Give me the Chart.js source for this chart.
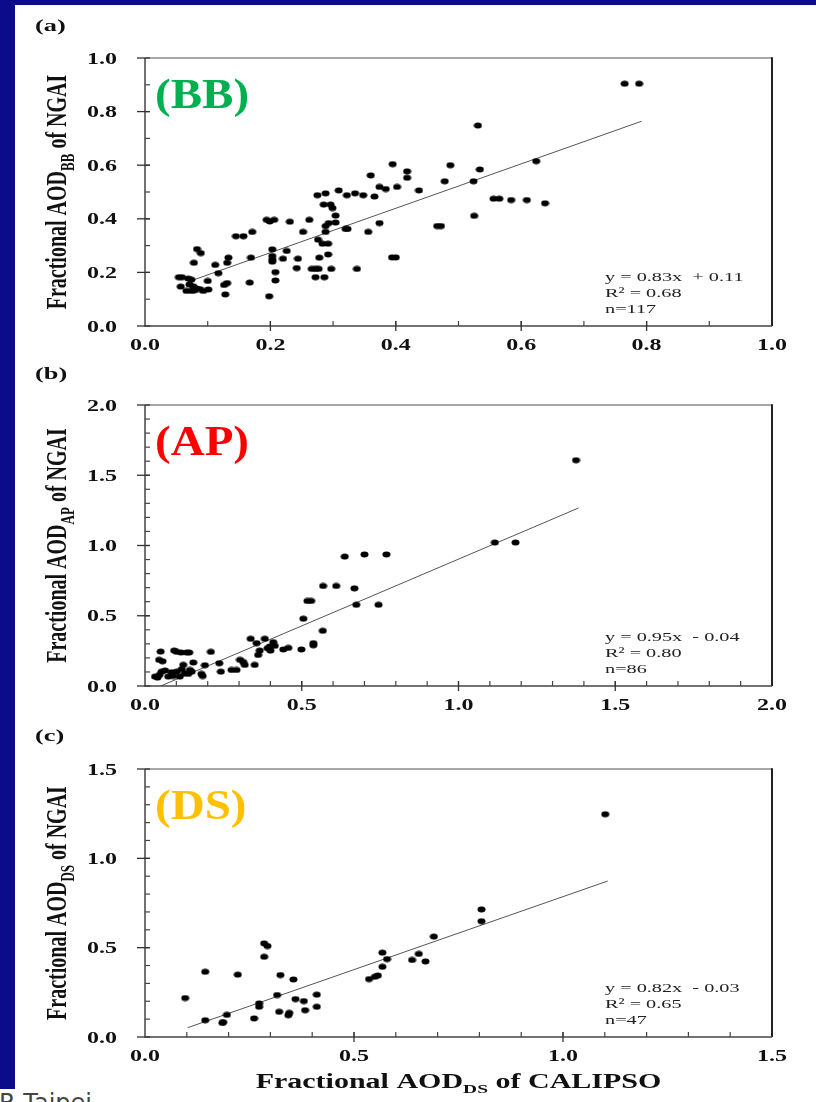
<!DOCTYPE html>
<html>
<head>
<meta charset="utf-8">
<script src="https://cdn.jsdelivr.net/npm/chart.js@4.4.0/dist/chart.umd.min.js"></script>
<style>
  html, body { margin: 0; padding: 0; }
  body { width: 816px; height: 1102px; position: relative; overflow: hidden; background: #0b0b8c; }
  #sheet { position: absolute; left: 15px; top: 5px; right: 0; bottom: 0; background: #fff; }
  #foot { position: absolute; left: 0; top: 1089px; width: 816px; height: 13px; background: #fff; }
  #footText { position: absolute; left: -1px; top: 1089px; font: 24px "DejaVu Sans", sans-serif; color: #444; white-space: nowrap; }
  canvas { position: absolute; left: 0; }
</style>
</head>
<body>
<div id="sheet"></div>
<div id="foot"></div>
<div id="footText">R Taipei</div>
<canvas id="chartBB" width="816" height="360" style="top:0px"></canvas>
<canvas id="chartAP" width="816" height="360" style="top:360px"></canvas>
<canvas id="chartDS" width="816" height="382" style="top:720px"></canvas>
<script>
// (a) biomass burning
const bbX = [0.765, 0.788, 0.531, 0.624, 0.395, 0.487, 0.418, 0.418, 0.534, 0.360,
  0.437, 0.374, 0.384, 0.402, 0.478, 0.524, 0.366, 0.309, 0.322, 0.335,
  0.348, 0.275, 0.288, 0.285, 0.296, 0.299, 0.304, 0.288, 0.293, 0.304,
  0.288, 0.320, 0.323, 0.356, 0.374, 0.466, 0.472, 0.525, 0.556, 0.565,
  0.584, 0.609, 0.638, 0.262, 0.231, 0.252, 0.194, 0.199, 0.206, 0.171,
  0.145, 0.157, 0.203, 0.226, 0.203, 0.203, 0.203, 0.220, 0.244, 0.242,
  0.208, 0.208, 0.198, 0.169, 0.167, 0.133, 0.131, 0.117, 0.112, 0.131,
  0.126, 0.128, 0.083, 0.089, 0.078, 0.054, 0.059, 0.069, 0.074, 0.057,
  0.071, 0.077, 0.082, 0.074, 0.079, 0.087, 0.093, 0.101, 0.100, 0.066,
  0.276, 0.283, 0.292, 0.278, 0.292, 0.297, 0.266, 0.272, 0.277, 0.272,
  0.286, 0.338, 0.394, 0.400];
const bbY = [0.904, 0.904, 0.748, 0.615, 0.604, 0.600, 0.577, 0.553, 0.584, 0.562,
  0.506, 0.519, 0.511, 0.519, 0.540, 0.540, 0.483, 0.506, 0.488, 0.495,
  0.488, 0.488, 0.495, 0.453, 0.453, 0.440, 0.412, 0.373, 0.384, 0.386,
  0.351, 0.362, 0.362, 0.351, 0.384, 0.373, 0.373, 0.411, 0.475, 0.475,
  0.470, 0.470, 0.458, 0.396, 0.389, 0.351, 0.396, 0.390, 0.396, 0.351,
  0.335, 0.335, 0.286, 0.280, 0.261, 0.249, 0.240, 0.251, 0.251, 0.216,
  0.201, 0.170, 0.111, 0.255, 0.162, 0.255, 0.236, 0.197, 0.228, 0.160,
  0.153, 0.118, 0.287, 0.272, 0.236, 0.182, 0.182, 0.177, 0.173, 0.147,
  0.155, 0.148, 0.140, 0.131, 0.133, 0.138, 0.131, 0.136, 0.168, 0.131,
  0.322, 0.307, 0.307, 0.255, 0.267, 0.213, 0.213, 0.213, 0.213, 0.182,
  0.182, 0.213, 0.256, 0.256];
const bbFitX = [0.075, 0.792];
const bbFitY = [0.170, 0.764];

// (b) anthropogenic pollution
const apX = [1.375, 1.116, 1.182, 0.637, 0.700, 0.770, 0.568, 0.610, 0.668, 0.674,
  0.745, 0.518, 0.530, 0.505, 0.567, 0.537, 0.537, 0.499, 0.441, 0.457,
  0.409, 0.414, 0.382, 0.356, 0.337, 0.366, 0.361, 0.391, 0.400, 0.398,
  0.350, 0.303, 0.313, 0.318, 0.276, 0.292, 0.242, 0.237, 0.210, 0.191,
  0.180, 0.184, 0.154, 0.122, 0.143, 0.149, 0.127, 0.111, 0.138, 0.101,
  0.117, 0.093, 0.101, 0.115, 0.133, 0.141, 0.050, 0.045, 0.056, 0.032,
  0.046, 0.053, 0.064, 0.074, 0.085, 0.090, 0.040];
const apY = [1.607, 1.021, 1.021, 0.921, 0.936, 0.936, 0.712, 0.712, 0.695, 0.578,
  0.578, 0.605, 0.605, 0.479, 0.393, 0.305, 0.290, 0.260, 0.260, 0.271,
  0.312, 0.286, 0.336, 0.305, 0.336, 0.252, 0.221, 0.269, 0.252, 0.281,
  0.150, 0.186, 0.171, 0.150, 0.114, 0.114, 0.102, 0.162, 0.243, 0.148,
  0.086, 0.071, 0.167, 0.150, 0.114, 0.102, 0.090, 0.067, 0.086, 0.102,
  0.119, 0.252, 0.243, 0.238, 0.238, 0.238, 0.245, 0.186, 0.176, 0.067,
  0.079, 0.102, 0.110, 0.067, 0.098, 0.071, 0.060];
const apFitX = [0.050, 1.383];
const apFitY = [0.000, 1.267];

// (c) dust
const dsX = [1.101, 0.805, 0.805, 0.691, 0.655, 0.639, 0.671, 0.568, 0.579, 0.568,
  0.536, 0.550, 0.557, 0.096, 0.144, 0.144, 0.185, 0.187, 0.196, 0.222,
  0.261, 0.273, 0.273, 0.285, 0.293, 0.285, 0.316, 0.321, 0.324, 0.343,
  0.345, 0.355, 0.360, 0.380, 0.383, 0.411, 0.411];
const dsY = [1.247, 0.714, 0.648, 0.562, 0.465, 0.431, 0.423, 0.472, 0.436, 0.393,
  0.324, 0.337, 0.344, 0.218, 0.094, 0.365, 0.079, 0.083, 0.124, 0.349,
  0.104, 0.188, 0.169, 0.524, 0.509, 0.449, 0.235, 0.141, 0.347, 0.122,
  0.135, 0.322, 0.212, 0.201, 0.150, 0.237, 0.169];
const dsFitX = [0.102, 1.107];
const dsFitY = [0.052, 0.873];

// tick labels
const bbTicks = ['0.0', '0.2', '0.4', '0.6', '0.8', '1.0'];
const apTicks = ['0.0', '0.5', '1.0', '1.5', '2.0'];
const dsTicks = ['0.0', '0.5', '1.0', '1.5'];

const bbStats = ['y = 0.83x  + 0.11', 'R\u00b2 = 0.68', 'n=117'];
const apStats = ['y = 0.95x  - 0.04', 'R\u00b2 = 0.80', 'n=86'];
const dsStats = ['y = 0.82x  - 0.03', 'R\u00b2 = 0.65', 'n=47'];

const SERIF = '"Liberation Serif", "Times New Roman", serif';
const STRETCH = 1.5;

function dotImage() {
  const c = document.createElement('canvas');
  c.width = 9;
  c.height = 7;
  const g = c.getContext('2d');
  g.fillStyle = '#000';
  g.beginPath();
  g.ellipse(4.5, 3.5, 4, 3, 0, 0, Math.PI * 2);
  g.fill();
  return c;
}
const dot = dotImage();

function seg(ctx, x1, y1, x2, y2, color, w) {
  ctx.strokeStyle = color;
  ctx.lineWidth = w;
  ctx.beginPath();
  ctx.moveTo(x1, y1);
  ctx.lineTo(x2, y2);
  ctx.stroke();
}

function wideText(ctx, text, x, y, font, align, sx) {
  ctx.save();
  ctx.font = font;
  ctx.translate(x, y);
  ctx.scale(sx, 1);
  ctx.textAlign = align;
  ctx.fillText(text, 0, 0);
  ctx.restore();
}

// title with a subscript, centred on the current origin
function subText(ctx, main, sub, rest, size) {
  const big = 'bold ' + size + 'px ' + SERIF;
  const small = 'bold ' + Math.round(size * 0.65) + 'px ' + SERIF;
  ctx.textAlign = 'left';
  ctx.font = big;
  const w1 = ctx.measureText(main).width;
  const w3 = ctx.measureText(rest).width;
  ctx.font = small;
  const w2 = ctx.measureText(sub).width;
  let pos = -(w1 + w2 + w3) / 2;
  ctx.font = big;
  ctx.fillText(main, pos, 0);
  pos += w1;
  ctx.font = small;
  ctx.fillText(sub, pos, size * 0.25);
  pos += w2;
  ctx.font = big;
  ctx.fillText(rest, pos, 0);
}

const framePlugin = {
  id: 'frame',
  afterDraw(chart, args, o) {
    const { ctx, chartArea: a, scales: { x, y } } = chart;
    ctx.save();
    ctx.fillStyle = '#111';
    ctx.textBaseline = 'alphabetic';

    // box
    seg(ctx, a.left, a.top, a.right, a.top, '#8a8a8a', 1.5);
    seg(ctx, a.right, a.top - 0.75, a.right, a.bottom, '#222', 2);
    seg(ctx, a.left, a.top, a.left, a.bottom + 0.75, '#444', 1.5);
    seg(ctx, a.left, a.bottom, a.right, a.bottom, '#444', 1.5);

    // minor ticks (inside)
    const nx = Math.round((x.max - x.min) / o.minor);
    for (let i = 1; i < nx; i++) {
      const px = x.getPixelForValue(x.min + i * o.minor);
      seg(ctx, px, a.bottom, px, a.bottom - 5, '#444', 1.2);
    }
    const ny = Math.round((y.max - y.min) / o.minor);
    for (let i = 1; i < ny; i++) {
      const py = y.getPixelForValue(y.min + i * o.minor);
      seg(ctx, a.left, py, a.left + 5, py, '#444', 1.2);
    }

    // major ticks and labels
    const tickFont = 'bold 16px ' + SERIF;
    o.ticks.forEach(t => {
      const px = x.getPixelForValue(parseFloat(t));
      if (px > a.left + 1 && px < a.right - 1) seg(ctx, px, a.bottom - 5, px, a.bottom + 5, '#333', 1.3);
      wideText(ctx, t, px, a.bottom + 24, tickFont, 'center', STRETCH);
      const py = y.getPixelForValue(parseFloat(t));
      seg(ctx, a.left - 8, py, a.left + 5, py, '#333', 1.3);
      wideText(ctx, t, a.left - 28, py + 5.5, tickFont, 'right', STRETCH);
    });

    // panel letter
    wideText(ctx, o.letter, 35, o.letterY, 'bold 17px ' + SERIF, 'left', 1.55);

    // y title
    ctx.save();
    ctx.translate(66, (a.top + a.bottom) / 2);
    ctx.scale(STRETCH, 1);
    ctx.rotate(-Math.PI / 2);
    subText(ctx, 'Fractional AOD', o.sub, ' of NGAI', 20);
    ctx.restore();

    // x title (bottom panel only)
    if (o.xTitle) {
      ctx.save();
      ctx.translate((a.left + a.right) / 2, a.bottom + 51);
      ctx.scale(STRETCH, 1);
      subText(ctx, 'Fractional AOD', o.sub, ' of CALIPSO', 20);
      ctx.restore();
    }

    // aerosol type tag
    ctx.fillStyle = o.tagColor;
    wideText(ctx, o.tag, a.left + 10, a.top + 50, 'bold 42px ' + SERIF, 'left', 1.12);

    // regression stats
    ctx.fillStyle = '#222';
    o.stats.forEach((s, i) => {
      wideText(ctx, s, a.left + 460, a.bottom - 45 + i * 16, '13.5px ' + SERIF, 'left', STRETCH);
    });
    ctx.restore();
  }
};

function makePanel(id, xs, ys, fitX, fitY, max, pad, frame) {
  return new Chart(document.getElementById(id), {
    type: 'scatter',
    data: {
      datasets: [{
        data: xs.map((v, i) => ({ x: v, y: ys[i] })),
        pointStyle: dot,
        pointRadius: 4,
        order: 1
      }, {
        type: 'line',
        data: fitX.map((v, i) => ({ x: v, y: fitY[i] })),
        borderColor: '#555',
        borderWidth: 1,
        pointRadius: 0,
        fill: false,
        order: 2
      }]
    },
    options: {
      responsive: false,
      animation: false,
      events: [],
      layout: { padding: pad },
      scales: {
        x: { type: 'linear', min: 0, max: max, display: false },
        y: { type: 'linear', min: 0, max: max, display: false }
      },
      plugins: {
        legend: { display: false },
        tooltip: { enabled: false },
        frame: frame
      }
    },
    plugins: [framePlugin]
  });
}

makePanel('chartBB', bbX, bbY, bbFitX, bbFitY, 1.0,
  { left: 145, right: 44, top: 58, bottom: 34 },
  { ticks: bbTicks, minor: 0.1, letter: '(a)', letterY: 31, sub: 'BB', tag: '(BB)', tagColor: '#00b050', stats: bbStats });

makePanel('chartAP', apX, apY, apFitX, apFitY, 2.0,
  { left: 145, right: 44, top: 45, bottom: 34 },
  { ticks: apTicks, minor: 0.1, letter: '(b)', letterY: 19, sub: 'AP', tag: '(AP)', tagColor: '#ff0000', stats: apStats });

makePanel('chartDS', dsX, dsY, dsFitX, dsFitY, 1.5,
  { left: 145, right: 44, top: 49, bottom: 65 },
  { ticks: dsTicks, minor: 0.1, letter: '(c)', letterY: 21, sub: 'DS', tag: '(DS)', tagColor: '#ffc000', stats: dsStats, xTitle: true });
</script>
</body>
</html>
